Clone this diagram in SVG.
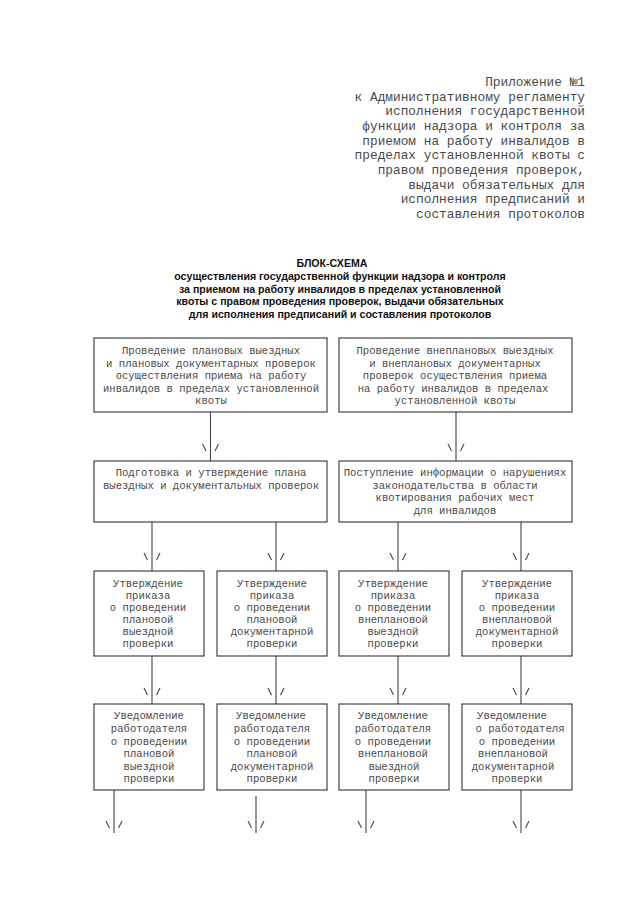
<svg xmlns="http://www.w3.org/2000/svg" width="640" height="905" viewBox="0 0 640 905">
<style>
.hdr{font-family:"Liberation Mono","Courier New",monospace;font-size:12.8px;fill:#4a4a4a;text-anchor:end}
.ttl{font-family:"Liberation Sans",Arial,sans-serif;font-size:10.6px;font-weight:bold;fill:#111;text-anchor:middle}
.bx{fill:#fff;stroke:#333;stroke-width:1.1}
.t{font-family:"Liberation Mono","Courier New",monospace;font-size:10.6px;fill:#4a4a4a;text-anchor:middle}
.c{stroke:#444;stroke-width:1.1;fill:none}
</style>
<rect width="640" height="905" fill="#fff"/>
<g id="header">
<text class="hdr" x="585" y="86">Приложение №1</text>
<text class="hdr" x="585" y="100.7">к Административному регламенту</text>
<text class="hdr" x="585" y="115.3">исполнения государственной</text>
<text class="hdr" x="585" y="130">функции надзора и контроля за</text>
<text class="hdr" x="585" y="144.7">приемом на работу инвалидов в</text>
<text class="hdr" x="585" y="159.3">пределах установленной квоты с</text>
<text class="hdr" x="585" y="174">правом проведения проверок,</text>
<text class="hdr" x="585" y="188.7">выдачи обязательных для</text>
<text class="hdr" x="585" y="203.3">исполнения предписаний и</text>
<text class="hdr" x="585" y="218">составления протоколов</text>
</g>
<g id="title">
<text class="ttl" x="332" y="267">БЛОК-СХЕМА</text>
<text class="ttl" x="340" y="280">осуществления государственной функции надзора и контроля</text>
<text class="ttl" x="340" y="292.5">за приемом на работу инвалидов в пределах установленной</text>
<text class="ttl" x="340" y="305">квоты с правом проведения проверок, выдачи обязательных</text>
<text class="ttl" x="340" y="317.5">для исполнения предписаний и составления протоколов</text>
</g>
<g id="connectors">
<path class="c" d="M210.5 412V461M456 412V461"/>
<path class="c" d="M202.5 444L206 451M218.5 444L215 451M448 444L451.5 451M464 444L460.5 451"/>
<path class="c" d="M152 522V571M276 522V571M398 522V571M521 522V571"/>
<path class="c" d="M144 553L147.5 560M160 553L156.5 560M268 553L271.5 560M284 553L280.5 560M390 553L393.5 560M406 553L402.5 560M513 553L516.5 560M529 553L525.5 560"/>
<path class="c" d="M152 656V704M276 656V704M398 656V704M521 656V704"/>
<path class="c" d="M144 688L147.5 695M160 688L156.5 695M268 688L271.5 695M284 688L280.5 695M390 688L393.5 695M406 688L402.5 695M513 688L516.5 695M529 688L525.5 695"/>
<path class="c" d="M114 790V833M256 796V833M366 790V833M521 790V833"/>
<path class="c" d="M106 821L109.5 828M122 821L118.5 828M248 821L251.5 828M264 821L260.5 828M358 821L361.5 828M374 821L370.5 828M513 821L516.5 828M529 821L525.5 828"/>
</g>
<g id="n1">
<rect class="bx" x="94" y="338" width="233" height="74"/>
<text class="t" x="211" y="354">Проведение плановых выездных</text>
<text class="t" x="211" y="366.5">и плановых документарных проверок</text>
<text class="t" x="211" y="379">осуществления приема на работу</text>
<text class="t" x="211" y="391.5">инвалидов в пределах установленной</text>
<text class="t" x="211" y="404">квоты</text>
</g>
<g id="n2">
<rect class="bx" x="339" y="338" width="233" height="74"/>
<text class="t" x="455" y="354">Проведение внеплановых выездных</text>
<text class="t" x="455" y="366.5">и внеплановых документарных</text>
<text class="t" x="455" y="379">проверок осуществления приема</text>
<text class="t" x="453" y="391.5">на работу инвалидов в пределах</text>
<text class="t" x="455" y="404">установленной квоты</text>
</g>
<g id="n3">
<rect class="bx" x="94" y="461" width="233" height="61"/>
<text class="t" x="211" y="476">Подготовка и утверждение плана</text>
<text class="t" x="211" y="489">выездных и документальных проверок</text>
</g>
<g id="n4">
<rect class="bx" x="339" y="461" width="233" height="61"/>
<text class="t" x="455" y="476">Поступление информации о нарушениях</text>
<text class="t" x="455" y="489">законодательства в области</text>
<text class="t" x="455" y="501">квотирования рабочих мест</text>
<text class="t" x="455" y="513.5">для инвалидов</text>
</g>
<g id="n5">
<rect class="bx" x="94" y="571" width="110" height="85"/>
<text class="t" x="148" y="587">Утверждение</text>
<text class="t" x="148" y="599">приказа</text>
<text class="t" x="148" y="611">о проведении</text>
<text class="t" x="148" y="623">плановой</text>
<text class="t" x="148" y="635">выездной</text>
<text class="t" x="148" y="647">проверки</text>
</g>
<g id="n6">
<rect class="bx" x="217" y="571" width="110" height="85"/>
<text class="t" x="272" y="587">Утверждение</text>
<text class="t" x="272" y="599">приказа</text>
<text class="t" x="272" y="611">о проведении</text>
<text class="t" x="272" y="623">плановой</text>
<text class="t" x="272" y="635">документарной</text>
<text class="t" x="272" y="647">проверки</text>
</g>
<g id="n7">
<rect class="bx" x="339" y="571" width="110" height="85"/>
<text class="t" x="393" y="587">Утверждение</text>
<text class="t" x="393" y="599">приказа</text>
<text class="t" x="393" y="611">о проведении</text>
<text class="t" x="393" y="623">внеплановой</text>
<text class="t" x="393" y="635">выездной</text>
<text class="t" x="393" y="647">проверки</text>
</g>
<g id="n8">
<rect class="bx" x="462" y="571" width="110" height="85"/>
<text class="t" x="517" y="587">Утверждение</text>
<text class="t" x="517" y="599">приказа</text>
<text class="t" x="517" y="611">о проведении</text>
<text class="t" x="517" y="623">внеплановой</text>
<text class="t" x="517" y="635">документарной</text>
<text class="t" x="517" y="647">проверки</text>
</g>
<g id="n9">
<rect class="bx" x="94" y="704" width="110" height="86"/>
<text class="t" x="149" y="719">Уведомление</text>
<text class="t" x="149" y="732">работодателя</text>
<text class="t" x="149" y="745">о проведении</text>
<text class="t" x="149" y="757">плановой</text>
<text class="t" x="149" y="770">выездной</text>
<text class="t" x="149" y="782">проверки</text>
</g>
<g id="n10">
<rect class="bx" x="217" y="704" width="110" height="86"/>
<text class="t" x="271" y="719">Уведомление</text>
<text class="t" x="272" y="732">работодателя</text>
<text class="t" x="272" y="745">о проведении</text>
<text class="t" x="272" y="757">плановой</text>
<text class="t" x="272" y="770">документарной</text>
<text class="t" x="272" y="782">проверки</text>
</g>
<g id="n11">
<rect class="bx" x="339" y="704" width="110" height="86"/>
<text class="t" x="393" y="719">Уведомление</text>
<text class="t" x="393" y="732">работодателя</text>
<text class="t" x="393" y="745">о проведении</text>
<text class="t" x="393" y="757">внеплановой</text>
<text class="t" x="394" y="770">выездной</text>
<text class="t" x="394" y="782">проверки</text>
</g>
<g id="n12">
<rect class="bx" x="462" y="704" width="110" height="86"/>
<text class="t" x="512" y="719">Уведомление</text>
<text class="t" x="520" y="732">о работодателя</text>
<text class="t" x="517" y="745">о проведении</text>
<text class="t" x="513" y="757">внеплановой</text>
<text class="t" x="513" y="770">документарной</text>
<text class="t" x="517" y="782">проверки</text>
</g>
</svg>
